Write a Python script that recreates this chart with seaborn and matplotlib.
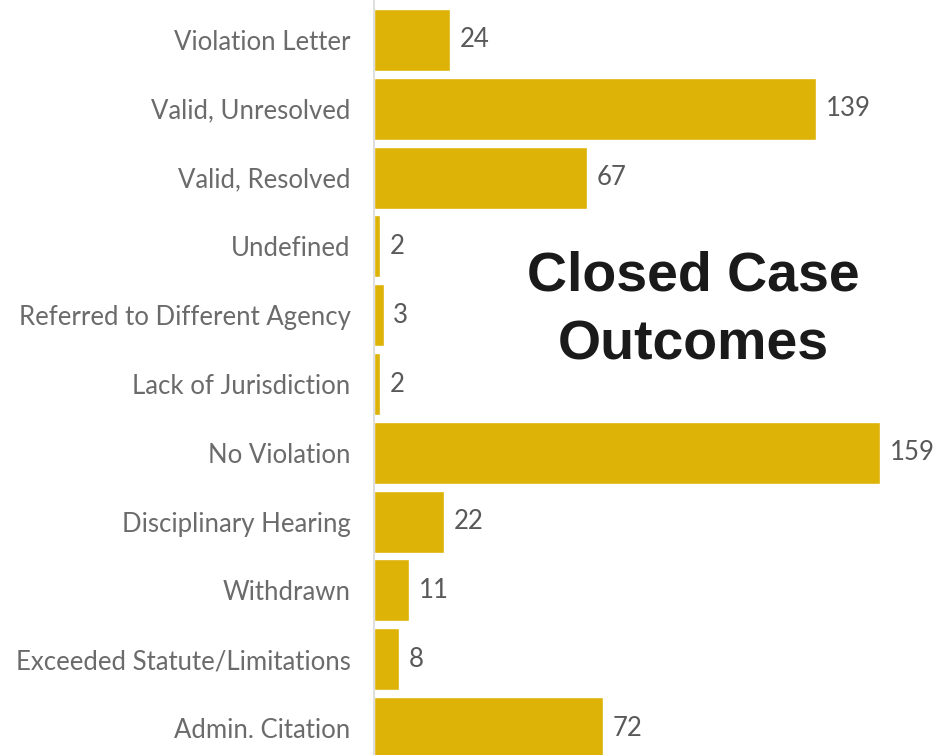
import matplotlib
matplotlib.use("Agg")
import matplotlib.pyplot as plt
import seaborn as sns
import pandas as pd

categories = ["Violation Letter", "Valid, Unresolved", "Valid, Resolved", "Undefined",
              "Referred to Different Agency", "Lack of Jurisdiction", "No Violation",
              "Disciplinary Hearing", "Withdrawn", "Exceeded Statute/Limitations",
              "Admin. Citation"]
values = [24, 139, 67, 2, 3, 2, 159, 22, 11, 8, 72]
title = "Closed Case\nOutcomes"

sns.set_theme(style="white")
plt.rcParams['font.family'] = ['Lato', 'DejaVu Sans']

df = pd.DataFrame({"Outcome": categories, "Count": values})

fig = plt.figure(figsize=(9.34, 7.55), dpi=100)
ax = fig.add_axes([374/934, 0.0, 1 - 374/934, 1.0])
sns.barplot(data=df, y="Outcome", x="Count", orient="h", color="#DDB307",
            saturation=1, width=0.9, ax=ax)
ax.set_xlim(0, 176)
ax.set_ylim(10.392, -0.581)
ax.set_xlabel("")
ax.set_ylabel("")
ax.set_xticks([])
for s in ["top", "right", "bottom"]:
    ax.spines[s].set_visible(False)
ax.spines["left"].set_color("#D9D9D9")
ax.spines["left"].set_linewidth(1.2)
ax.tick_params(axis="y", length=0, pad=17, labelsize=18.5, labelcolor="#6B6B6B")

for cont in ax.containers:
    ax.bar_label(cont, labels=[str(v) for v in values], padding=7,
                 fontsize=18.5, color="#595959")

ax.text(0.571, 0.588, title, transform=ax.transAxes,
        ha="center", va="center", fontsize=40, fontweight="bold",
        family=["Liberation Sans", "DejaVu Sans"], color="#1A1A1A",
        linespacing=1.42)

fig.savefig("out.png", dpi=100)
